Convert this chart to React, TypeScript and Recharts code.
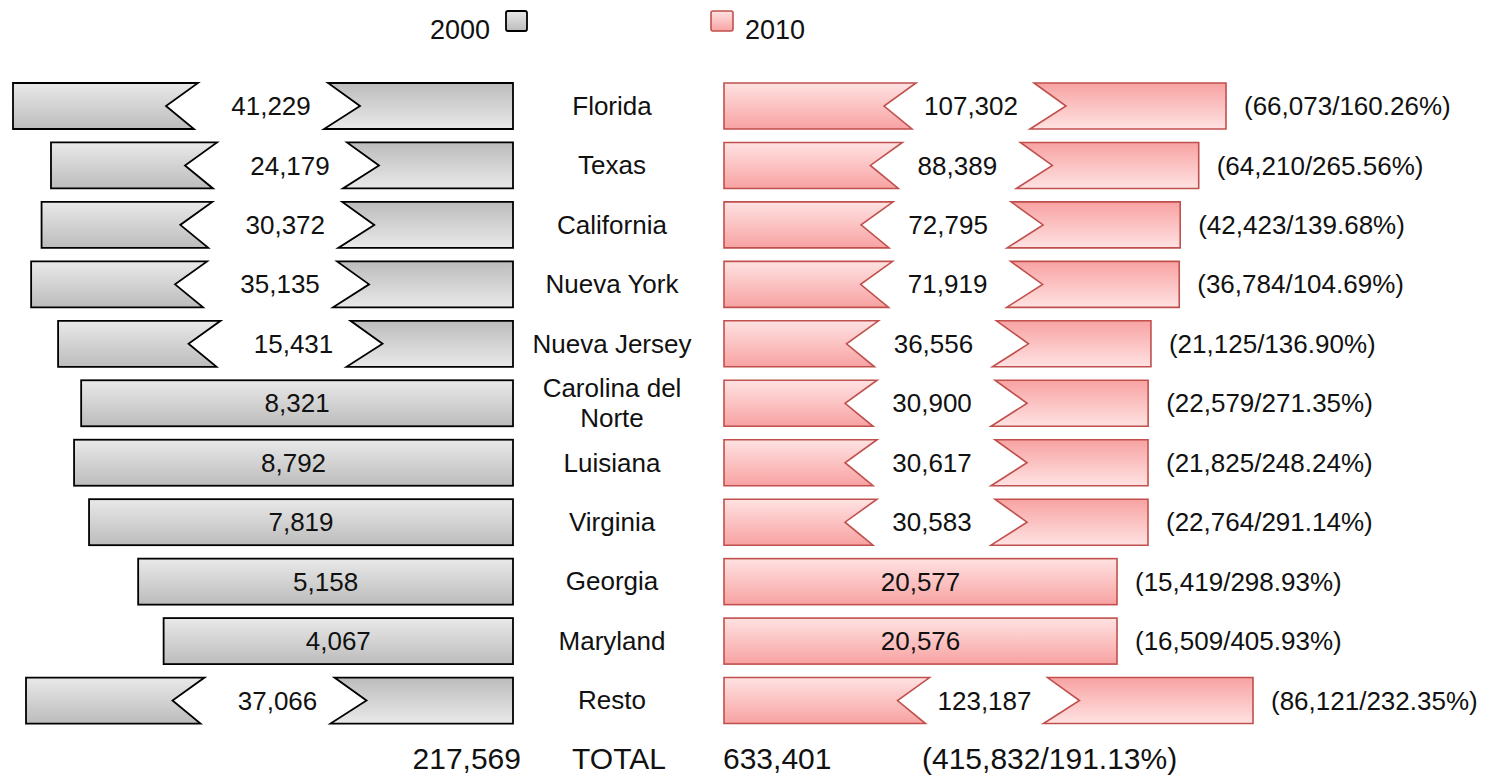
import React from 'react';
import { BarChart, Bar, XAxis, YAxis } from 'recharts';

// values
const states = [
  'Florida', 'Texas', 'California', 'Nueva York', 'Nueva Jersey',
  'Carolina del Norte', 'Luisiana', 'Virginia', 'Georgia', 'Maryland', 'Resto',
];
const pop2000 = [41229, 24179, 30372, 35135, 15431, 8321, 8792, 7819, 5158, 4067, 37066];
const pop2010 = [107302, 88389, 72795, 71919, 36556, 30900, 30617, 30583, 20577, 20576, 123187];
const seriesNames = ['2000', '2010'];
const totalLabel = 'TOTAL';

const data = states.map((name, i) => ({ name, y2000: pop2000[i], y2010: pop2010[i] }));

const FONT = '"Liberation Sans", Arial, Helvetica, sans-serif';
const fmt = (v: number) => v.toLocaleString('en-US');

// broken axis: power curve below brk, a separate (compressed) curve above it
function breakScale(exp: number, k: number, brk: number, a: number, b: number, q: number): any {
  const t = (v: number) =>
    v <= brk ? k * Math.pow(Math.max(v, 0), exp) : a + b * Math.pow(v / 1e4, q);
  let dom: number[] = [0, 1];
  let rng: number[] = [0, 1];
  const scale: any = (v: number) => {
    const t0 = t(dom[0]);
    const t1 = t(dom[1]);
    if (t1 === t0) return rng[0];
    return rng[0] + ((t(Number(v)) - t0) / (t1 - t0)) * (rng[1] - rng[0]);
  };
  scale.domain = (d?: any[]) => {
    if (d === undefined) return dom.slice();
    dom = d.map(Number);
    return scale;
  };
  scale.range = (r?: any[]) => {
    if (r === undefined) return rng.slice();
    rng = r.map(Number);
    return scale;
  };
  scale.copy = () => breakScale(exp, k, brk, a, b, q).domain(dom).range(rng);
  scale.ticks = () => dom.slice();
  scale.tickFormat = () => (d: any) => String(d);
  return scale;
}

const LEFT = {
  key: 'y2000', brk: 9000, gap: 130, shift: 8, id: 'gray',
  stroke: '#000', sw: 1.8, scale: breakScale(0.296, 29.79, 9000, 451.5, 0.6776, 3),
};
const RIGHT = {
  key: 'y2010', brk: 25000, gap: 118, shift: -4, id: 'pink',
  stroke: '#c0504d', sw: 1.6, scale: breakScale(0.296, 20.78, 25000, 417.1, 0.7374, 2),
};

const NOTCH = 32;
const SLANT = 4;

const CutBar = (props: any) => {
  const { x, y, width, height, payload, side } = props;
  const cfg = side === 'left' ? LEFT : RIGHT;
  const value: number = payload[cfg.key];
  const x0 = Math.min(x, x + width);
  const x1 = Math.max(x, x + width);
  const y0 = y;
  const y1 = y + height;
  const ym = y + height / 2;
  const stroke = { stroke: cfg.stroke, strokeWidth: cfg.sw, strokeLinejoin: 'miter' as const };
  const txt = { fontSize: 26, fontFamily: FONT, fill: '#111', dy: '0.35em' };

  let body;
  let tx;
  if (value > cfg.brk) {
    const cx = (x0 + x1) / 2;
    const gl = cx - cfg.gap / 2;
    const gr = cx + cfg.gap / 2;
    body = (
      <>
        <path
          d={`M${x0},${y0}H${gl}L${gl - NOTCH},${ym}L${gl - SLANT},${y1}H${x0}Z`}
          fill={`url(#${cfg.id}-a)`}
          {...stroke}
        />
        <path
          d={`M${gr},${y0}H${x1}V${y1}H${gr - SLANT}L${gr + NOTCH},${ym}Z`}
          fill={`url(#${cfg.id}-b)`}
          {...stroke}
        />
      </>
    );
    tx = cx + cfg.shift;
  } else {
    body = <rect x={x0} y={y0} width={x1 - x0} height={height} fill={`url(#${cfg.id}-a)`} {...stroke} />;
    tx = (x0 + x1) / 2;
  }

  let change = null;
  if (side === 'right') {
    const diff = payload.y2010 - payload.y2000;
    const pct = ((diff / payload.y2000) * 100).toFixed(2);
    change = (
      <text x={x1 + 18} y={ym} textAnchor="start" {...txt}>
        {`(${fmt(diff)}/${pct}%)`}
      </text>
    );
  }

  return (
    <g>
      {body}
      <text x={tx} y={ym} textAnchor="middle" {...txt}>
        {fmt(value)}
      </text>
      {change}
    </g>
  );
};

const wrap = (s: string, max: number) => {
  const lines: string[] = [];
  let cur = '';
  s.split(' ').forEach((w) => {
    const next = cur ? cur + ' ' + w : w;
    if (next.length > max && cur) {
      lines.push(cur);
      cur = w;
    } else cur = next;
  });
  if (cur) lines.push(cur);
  return lines;
};

const StateTick = (props: any) => {
  const { x, y, payload } = props;
  const lines = wrap(payload.value, 12);
  const lh = 30;
  const start = y - ((lines.length - 1) * lh) / 2;
  return (
    <g>
      {lines.map((l, i) => (
        <text key={i} x={x - 112} y={start + i * lh} dy="0.35em" textAnchor="middle"
          fontSize={26} fontFamily={FONT} fill="#111">
          {l}
        </text>
      ))}
    </g>
  );
};

const total2000 = pop2000.reduce((a, b) => a + b, 0);
const total2010 = pop2010.reduce((a, b) => a + b, 0);
const totalDiff = total2010 - total2000;

export default function App() {
  const totalTxt = { fontSize: 30, fontFamily: FONT, fill: '#111', dy: '0.35em' };
  return (
    <div style={{ position: 'absolute', left: 0, top: 0, width: 1493, height: 778, background: '#fff', fontFamily: FONT, overflow: 'hidden' }}>
      <svg width={0} height={0} style={{ position: 'absolute' }}>
        <defs>
          <linearGradient id="gray-a" x1="0" y1="0" x2="0" y2="1">
            <stop offset="0%" stopColor="#e9e9e9" />
            <stop offset="100%" stopColor="#bcbcbc" />
          </linearGradient>
          <linearGradient id="gray-b" x1="0" y1="0" x2="0" y2="1">
            <stop offset="0%" stopColor="#bcbcbc" />
            <stop offset="100%" stopColor="#e9e9e9" />
          </linearGradient>
          <linearGradient id="pink-a" x1="0" y1="0" x2="0" y2="1">
            <stop offset="0%" stopColor="#ffe2e2" />
            <stop offset="100%" stopColor="#f8a2a2" />
          </linearGradient>
          <linearGradient id="pink-b" x1="0" y1="0" x2="0" y2="1">
            <stop offset="0%" stopColor="#f8a2a2" />
            <stop offset="100%" stopColor="#ffe2e2" />
          </linearGradient>
        </defs>
      </svg>

      <div style={{ position: 'absolute', left: 0, top: 0 }}>
        <BarChart layout="vertical" width={530} height={778} data={data}
          margin={{ top: 76, right: 17, bottom: 48, left: 13 }} barSize={46}>
          <XAxis type="number" hide reversed domain={[0, 'dataMax']} scale={LEFT.scale} />
          <YAxis type="category" dataKey="name" hide />
          <Bar dataKey="y2000" isAnimationActive={false} shape={(p: any) => <CutBar {...p} side="left" />} />
        </BarChart>
      </div>

      <div style={{ position: 'absolute', left: 0, top: 0 }}>
        <BarChart layout="vertical" width={1493} height={778} data={data}
          margin={{ top: 76, right: 240, bottom: 48, left: 514 }} barSize={46}>
          <XAxis type="number" hide domain={[0, 'dataMax']} scale={RIGHT.scale} />
          <YAxis type="category" dataKey="name" width={210} axisLine={false} tickLine={false}
            tickSize={0} tickMargin={0} tick={<StateTick />} interval={0} />
          <Bar dataKey="y2010" isAnimationActive={false} shape={(p: any) => <CutBar {...p} side="right" />} />
        </BarChart>
      </div>

      <svg width={1493} height={778} style={{ position: 'absolute', left: 0, top: 0, pointerEvents: 'none' }}>
        <text x={490} y={30} dy="0.35em" textAnchor="end" fontSize={27} fontFamily={FONT} fill="#111">{seriesNames[0]}</text>
        <rect x={506} y={11} width={21} height={20} rx={2} fill="url(#gray-a)" stroke="#000" strokeWidth={1.8} />
        <rect x={711} y={11} width={22} height={20} rx={2} fill="url(#pink-a)" stroke="#c0504d" strokeWidth={1.6} />
        <text x={745} y={30} dy="0.35em" textAnchor="start" fontSize={27} fontFamily={FONT} fill="#111">{seriesNames[1]}</text>

        <text x={521} y={758} textAnchor="end" {...totalTxt}>{fmt(total2000)}</text>
        <text x={619} y={758} textAnchor="middle" {...totalTxt}>{totalLabel}</text>
        <text x={723} y={758} textAnchor="start" {...totalTxt}>{fmt(total2010)}</text>
        <text x={922} y={758} textAnchor="start" {...totalTxt}>
          {`(${fmt(totalDiff)}/${((totalDiff / total2000) * 100).toFixed(2)}%)`}
        </text>
      </svg>
    </div>
  );
}
